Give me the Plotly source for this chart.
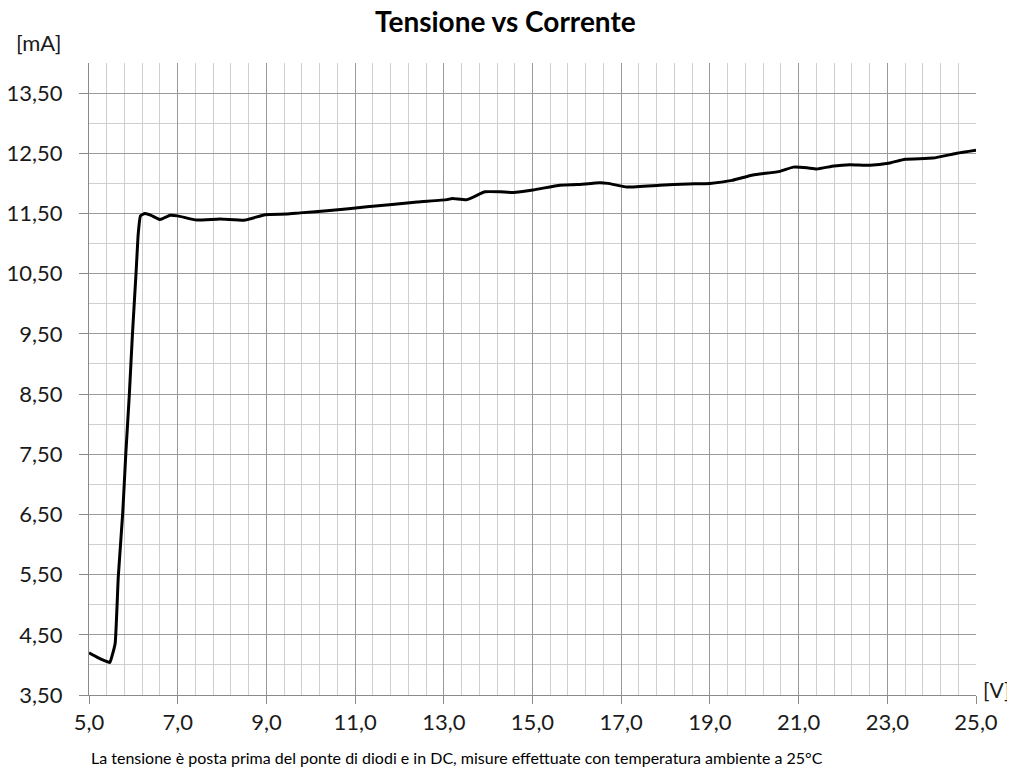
import plotly.graph_objects as go

voltage = [5.0, 5.2, 5.35, 5.47, 5.52, 5.59, 5.66, 5.76, 5.83, 5.91, 5.98, 6.06, 6.11, 6.16,
           6.26, 6.40, 6.60, 6.83, 7.00, 7.43, 7.95, 8.52, 8.97, 9.46, 9.76, 10.43, 11.27,
           12.40, 13.07, 13.19, 13.52, 13.93, 14.27, 14.56, 15.01, 15.62, 16.0, 16.52, 16.70,
           17.13, 17.87, 18.5, 19.0, 19.5, 19.97, 20.58, 20.88, 21.19, 21.41, 21.8, 22.16,
           22.61, 23.06, 23.40, 24.03, 24.57, 25.0]
current = [4.20, 4.12, 4.07, 4.04, 4.15, 4.36, 5.46, 6.52, 7.51, 8.50, 9.50, 10.50, 11.16, 11.46,
           11.50, 11.47, 11.40, 11.47, 11.46, 11.39, 11.41, 11.39, 11.48, 11.49, 11.51, 11.55, 11.61,
           11.69, 11.73, 11.75, 11.73, 11.86, 11.86, 11.85, 11.89, 11.97, 11.98, 12.01, 12.00,
           11.94, 11.97, 11.99, 12.00, 12.05, 12.14, 12.20, 12.27, 12.26, 12.24, 12.29, 12.31,
           12.30, 12.34, 12.40, 12.42, 12.50, 12.55]

title_text = "Tensione vs Corrente"
y_unit = "[mA]"
x_unit = "[V]"
footer = "La tensione è posta prima del ponte di diodi e in DC, misure effettuate con temperatura ambiente a 25°C"

FONT = "Lato"
TXT = "#1a1a1a"
fig = go.Figure()
fig.add_trace(go.Scatter(x=voltage, y=current, mode="lines",
                         line=dict(color="black", width=3, shape="spline", smoothing=0.4),
                         hoverinfo="skip", showlegend=False))

# page body has an 8px margin; margins compensate so the plot lands where the reference has it
fig.update_layout(
    template="none",
    width=1015, height=770,
    margin=dict(l=81, r=47, t=55, b=83, autoexpand=False),
    paper_bgcolor="white", plot_bgcolor="white",
    separators=",.",
    font=dict(family=FONT, color=TXT),
    annotations=[
        dict(text="<b>" + title_text + "</b>", xref="paper", yref="paper", x=0.469, y=1.0,
             xanchor="center", yanchor="bottom", yshift=23, showarrow=False,
             font=dict(family=FONT, size=28, color="black")),
        dict(text=y_unit, xref="paper", yref="paper", x=-0.0846, y=1.033, xanchor="left", yanchor="middle",
             showarrow=False, font=dict(family=FONT, size=22, color=TXT)),
        dict(text=x_unit, xref="paper", yref="paper", x=1.006, y=0.008, xanchor="left", yanchor="middle",
             showarrow=False, font=dict(family=FONT, size=21, color=TXT)),
        dict(text=footer, xref="paper", yref="paper", x=0.0, y=0.0, xanchor="left", yanchor="middle",
             yshift=-62, showarrow=False, font=dict(family=FONT, size=16, color="black")),
    ],
)

fig.update_xaxes(range=[5, 25], tick0=5, dtick=2, tickformat=".1f", automargin=False,
                 showgrid=True, gridcolor="#9a9a9a", gridwidth=1,
                 minor=dict(dtick=0.4, tick0=5, showgrid=True, gridcolor="#cfcfcf", gridwidth=1),
                 showline=True, linecolor="#8a8a8a", linewidth=1, mirror=False,
                 ticks="outside", ticklen=8, tickcolor="#8a8a8a",
                 tickfont=dict(family=FONT, size=22, color=TXT), zeroline=False)
fig.update_yaxes(range=[3.5, 14.0], tick0=3.5, dtick=1, tickformat=".2f", automargin=False,
                 showgrid=True, gridcolor="#9a9a9a", gridwidth=1,
                 minor=dict(dtick=0.5, tick0=3.5, showgrid=True, gridcolor="#cfcfcf", gridwidth=1),
                 showline=True, linecolor="#8a8a8a", linewidth=1, mirror=False,
                 ticks="outside", ticklen=9, tickcolor="#8a8a8a", ticklabelstandoff=12,
                 tickfont=dict(family=FONT, size=22, color=TXT), zeroline=False)

fig.write_html("out.html")
